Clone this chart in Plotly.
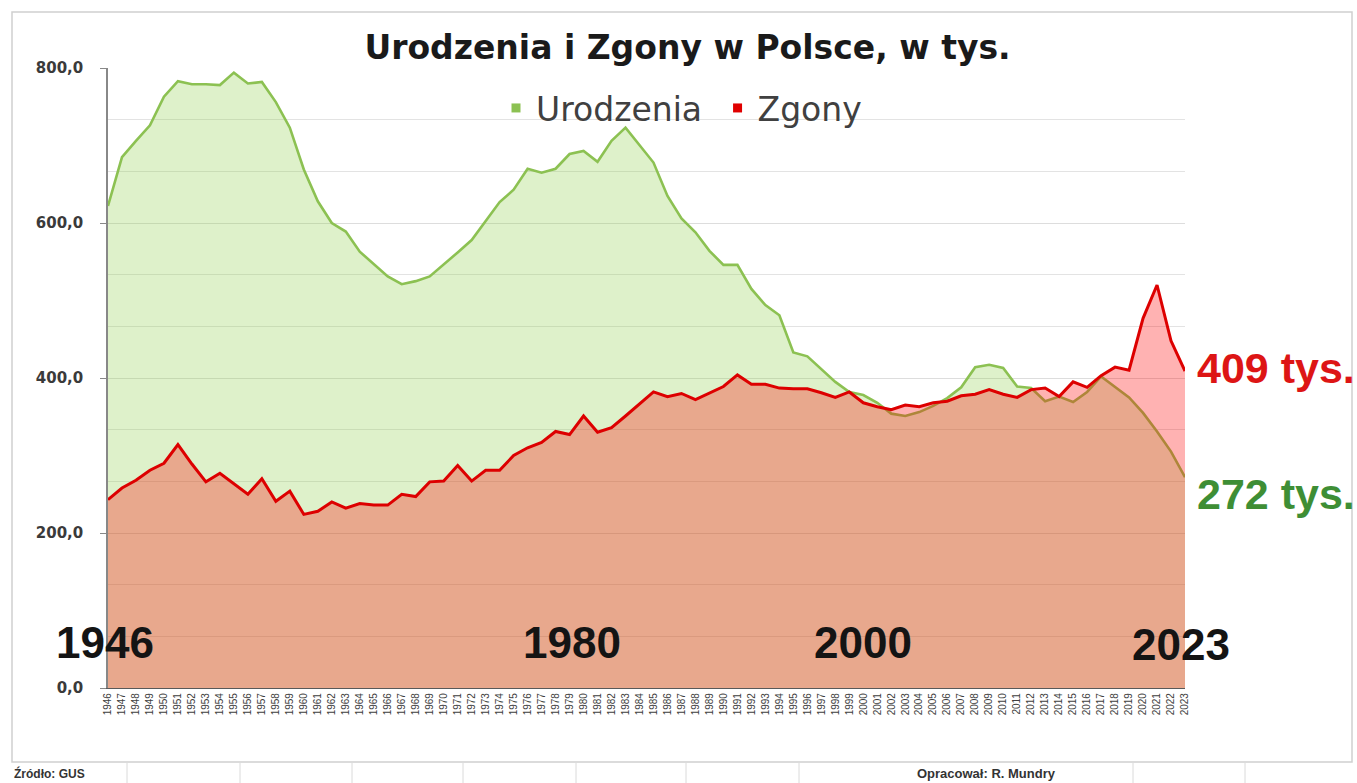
import plotly.graph_objects as go

years = list(range(1946, 2024))

urodzenia = [622, 685, 706, 726, 763, 783, 779, 779, 778, 794, 780, 782, 756, 723, 669,
             628, 600, 589, 563, 547, 531, 521, 525, 531, 546, 562, 578, 603, 627, 643,
             670, 665, 670, 689, 693, 679, 706, 723, 700, 678, 635, 606, 588, 564, 546,
             546, 515, 494, 481, 433, 428, 412, 395, 382, 378, 368, 354, 351, 356, 364,
             374, 388, 414, 417, 413, 389, 387, 370, 376, 369, 382, 402, 388, 375, 355,
             331, 305, 272]

zgony = [243, 258, 268, 281, 290, 314, 289, 266, 277, 264, 250, 270, 241, 254, 224,
         228, 240, 232, 238, 236, 236, 250, 247, 266, 267, 287, 267, 281, 281, 300,
         310, 317, 331, 327, 351, 330, 336, 351, 366, 382, 376, 380, 372, 381, 389,
         404, 392, 392, 387, 386, 386, 381, 375, 382, 368, 363, 359, 365, 363, 368,
         370, 377, 379, 385, 379, 375, 385, 387, 376, 395, 388, 403, 414, 410, 477,
         520, 448, 409]

y_tick_vals = [0, 200, 400, 600, 800]
y_tick_text = ["0,0", "200,0", "400,0", "600,0", "800,0"]
x_tick_text = [str(y) for y in years]

big_years = ["1946", "1980", "2000", "2023"]

# layout geometry (pixels)
W, H = 1357, 783
L, R, T, B = 108, 1185, 68, 688
PW, PH = R - L, B - T


def px(xp):
    return (xp - L) / PW


def py(yp):
    return (B - yp) / PH


fig = go.Figure()

fig.add_trace(go.Scatter(
    x=years, y=urodzenia, mode="lines", fill="tozeroy",
    fillcolor="rgba(146,208,80,0.30)",
    line=dict(color="#8CC152", width=2.6),
    showlegend=False, name="Urodzenia"))

fig.add_trace(go.Scatter(
    x=years, y=zgony, mode="lines", fill="tozeroy",
    fillcolor="rgba(255,0,0,0.30)",
    line=dict(color="#DD0000", width=3),
    showlegend=False, name="Zgony"))

# legend entries
fig.add_trace(go.Scatter(x=[None], y=[None], mode="markers", name="Urodzenia\u00a0",
                         marker=dict(symbol="square", size=9, color="#8CC152")))
fig.add_trace(go.Scatter(x=[None], y=[None], mode="markers", name="Zgony",
                         marker=dict(symbol="square", size=9, color="#E00000")))

annotations = []
year_pos = [(104.5, 642), (571.5, 642), (862.5, 642), (1180.5, 644)]
for txt, (xx, yy) in zip(big_years, year_pos):
    annotations.append(dict(text=txt, x=px(xx), y=py(yy), xref="paper", yref="paper",
                            xanchor="center", yanchor="middle", showarrow=False,
                            font=dict(family="Liberation Sans", size=44, color="#141414",
                                      weight="bold")))

annotations.append(dict(text=f"{zgony[-1]} tys.", x=px(1195), y=py(368), xref="paper",
                        yref="paper", xanchor="left", yanchor="middle", showarrow=False,
                        font=dict(family="Liberation Sans", size=43, color="#DD1515",
                                  weight="bold")))
annotations.append(dict(text=f"{urodzenia[-1]} tys.", x=px(1195), y=py(494), xref="paper",
                        yref="paper", xanchor="left", yanchor="middle", showarrow=False,
                        font=dict(family="Liberation Sans", size=43, color="#3E8E35",
                                  weight="bold")))

annotations.append(dict(text="Źródło: GUS", x=px(12), y=py(773), xref="paper", yref="paper",
                        xanchor="left", yanchor="middle", showarrow=False,
                        font=dict(family="Liberation Sans", size=12, color="#333333",
                                  weight="bold")))
annotations.append(dict(text="Opracował: R. Mundry", x=px(915), y=py(773), xref="paper",
                        yref="paper", xanchor="left", yanchor="middle", showarrow=False,
                        font=dict(family="Liberation Sans", size=13, color="#333333",
                                  weight="bold")))

shapes = [dict(type="rect", xref="paper", yref="paper", x0=px(12), x1=px(1352),
               y0=py(762), y1=py(12), line=dict(color="#D0D0D0", width=1.5),
               fillcolor="rgba(0,0,0,0)", layer="below")]
for xv in [127, 240, 352, 463, 576, 686, 799, 1133, 1245]:
    shapes.append(dict(type="line", xref="paper", yref="paper", x0=px(xv), x1=px(xv),
                       y0=py(763), y1=py(790), line=dict(color="#DADADA", width=1)))

fig.update_layout(
    width=W, height=H,
    margin=dict(l=L, r=W - R, t=T, b=H - B),
    paper_bgcolor="white", plot_bgcolor="white",
    title=dict(text="Urodzenia i Zgony w Polsce, w tys.", x=687.5 / W, xanchor="center",
               xref="container", yref="container", y=1 - 47 / H, yanchor="middle",
               font=dict(family="DejaVu Sans", size=33, color="#1A1A1A", weight="bold")),
    legend=dict(orientation="h", x=px(496), y=py(108), xanchor="left", yanchor="middle",
                font=dict(family="DejaVu Sans", size=33, color="#404040"),
                bgcolor="rgba(0,0,0,0)", itemwidth=30, tracegroupgap=0),
    xaxis=dict(range=[1946, 2023], tickmode="array", tickvals=years, ticktext=x_tick_text,
               tickangle=-90, tickfont=dict(family="Liberation Sans", size=10, color="#404040"),
               showgrid=False, zeroline=False, showline=True, linecolor="#595959",
               linewidth=1.2, ticks=""),
    yaxis=dict(range=[0, 800], tickmode="array", tickvals=y_tick_vals, ticktext=y_tick_text,
               tickfont=dict(family="DejaVu Sans", size=15, color="#3A3A3A", weight="bold"),
               ticks="outside", ticklen=6, tickcolor="#888888", ticklabelstandoff=14,
               showline=True, linecolor="#888888", linewidth=1.5, zeroline=False,
               showgrid=True, gridcolor="#DDDDDD", gridwidth=1,
               minor=dict(tick0=0, dtick=200 / 3, showgrid=True, gridcolor="#E3E3E3",
                          gridwidth=1, ticks="")),
    annotations=annotations,
    shapes=shapes,
    showlegend=True,
)

fig.write_html("out.html", config={"displayModeBar": False},
               post_script="document.body.style.margin='0';"
                           "document.body.style.overflow='hidden';")
